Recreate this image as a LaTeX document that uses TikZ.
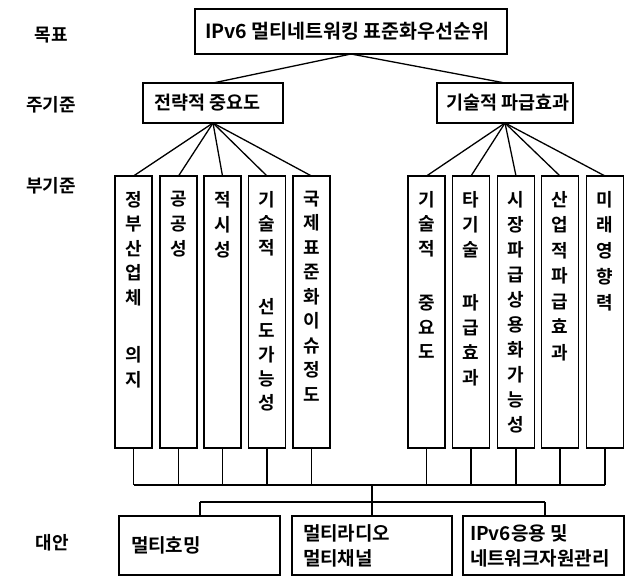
\documentclass[tikz,border=0pt]{standalone}
\usepackage{fontspec}
\setmainfont{Noto Sans CJK KR}[BoldFont={Noto Sans CJK KR Bold}]
\newcommand\colbox[2]{\parbox[c][272pt][t]{37pt}{\vspace*{15pt}\centering\bfseries\fontsize{18}{#1}\selectfont #2\par}}
\begin{document}
\begin{tikzpicture}[x=1pt,y=-1pt,
  box/.style={draw, line width=1.5pt, inner sep=0pt, outer sep=0pt, fill=white},
  conn/.style={line width=1.3pt},
  bus/.style={line width=1.8pt},
  lab/.style={inner sep=0pt, font=\bfseries\fontsize{18}{20}\selectfont}]
\useasboundingbox (0,0) rectangle (629,578);
% level labels
\node[lab] (Lgoal) at (51,35) {목표};
\node[lab] (Lmain) at (51,105) {주기준};
\node[lab] (Lsub) at (51,186) {부기준};
\node[lab] (Lalt) at (52,543) {대안};
% goal
\node[box, anchor=north west] (goal) at (195,9)
  {\parbox[c][45pt][c]{312pt}{\bfseries\fontsize{19.5}{22}\selectfont\hspace*{10pt}IPv6 멀티네트워킹 표준화우선순위}};
% main criteria
\node[box, anchor=north west] (m1) at (143,83)
  {\parbox[c][40pt][c]{140pt}{\bfseries\fontsize{18.5}{22}\selectfont\hspace*{11pt}전략적 중요도}};
\node[box, anchor=north west] (m2) at (437,83)
  {\parbox[c][40pt][c]{136pt}{\bfseries\fontsize{18.5}{22}\selectfont\hspace*{9pt}기술적 파급효과}};
% sub criteria
\node[box, anchor=north] (l1) at (133.5,176) {\colbox{24.5}{정\\부\\산\\업\\체\\[33pt]의\\지}};
\node[box, anchor=north] (l2) at (178.5,176) {\colbox{25}{공\\공\\성}};
\node[box, anchor=north] (l3) at (222.5,176) {\colbox{25}{적\\시\\성}};
\node[box, anchor=north] (l4) at (267,176) {\colbox{24}{기\\술\\적\\[35pt]선\\도\\가\\능\\성}};
\node[box, anchor=north] (l5) at (311.5,176) {\colbox{24.5}{국\\제\\표\\준\\화\\이\\슈\\정\\도}};
\node[box, anchor=north] (r1) at (426.5,176) {\colbox{24.5}{기\\술\\적\\[30pt]중\\요\\도}};
\node[box, anchor=north] (r2) at (471,176) {\colbox{25}{타\\기\\술\\[28pt]파\\급\\효\\과}};
\node[box, anchor=north] (r3) at (516,176) {\colbox{25}{시\\장\\파\\급\\상\\용\\화\\가\\능\\성}};
\node[box, anchor=north] (r4) at (560,176) {\colbox{25.5}{산\\업\\적\\파\\급\\효\\과}};
\node[box, anchor=north] (r5) at (605,176) {\colbox{25.8}{미\\래\\영\\향\\력}};
% alternatives
\node[box, anchor=north west] (a1) at (119,516)
  {\parbox[c][59pt][c]{161pt}{\bfseries\fontsize{19}{25}\selectfont\hspace*{12pt}멀티호밍}};
\node[box, anchor=north west] (a2) at (292,516)
  {\parbox[c][59pt][c]{160pt}{\bfseries\fontsize{19}{25}\selectfont\leftskip=11pt 멀티라디오\\멀티채널}};
\node[box, anchor=north west] (a3) at (463,516)
  {\parbox[c][59pt][c]{161pt}{\bfseries\fontsize{19}{25}\selectfont\leftskip=7pt IPv6응용 및\\네트워크자원관리}};
% connectors goal -> main
\draw[conn] (goal.south) -- (m1.north);
\draw[conn] (goal.south) -- (m2.north);
% main -> sub
\foreach \s in {l1,l2,l3,l4,l5} \draw[conn] (m1.south) -- (\s.north);
\foreach \s in {r1,r2,r3,r4,r5} \draw[conn] (m2.south) -- (\s.north);
% sub -> bus
\coordinate (busL) at (133.5,485);
\coordinate (busR) at (605,485);
\coordinate (busC) at (372,485);
\coordinate (bus2L) at (200,502);
\coordinate (bus2R) at (545,502);
\foreach \s in {l1,l2,l3,l4,l5,r1,r2,r3,r4,r5} \draw[conn] (\s.south) -- (\s.south |- busC);
\draw[bus] (busL) -- (busR);
\draw[bus] (busC) -- (a2.north);
\draw[conn] (bus2L) -- (bus2R);
\draw[conn] (bus2L) -- (bus2L |- a1.north);
\draw[conn] (bus2R) -- (bus2R |- a3.north);
\end{tikzpicture}
\end{document}
